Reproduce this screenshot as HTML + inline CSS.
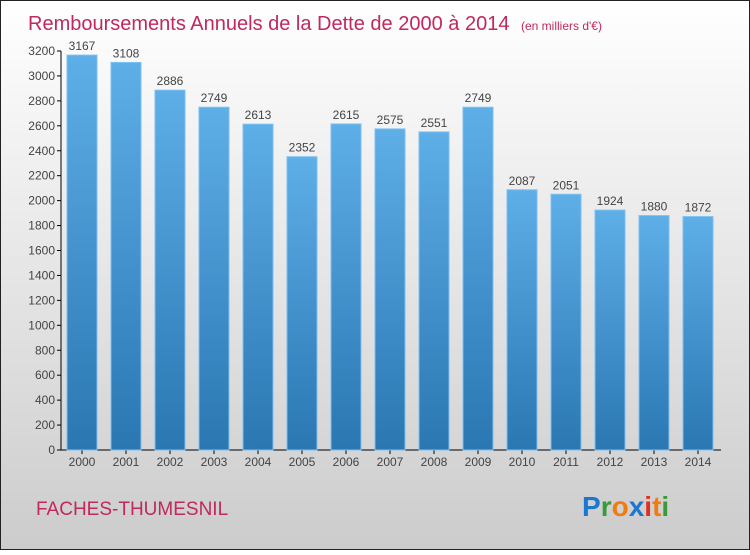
<!DOCTYPE html>
<html><head><meta charset="utf-8"><style>
body{margin:0;width:750px;height:550px;overflow:hidden;font-family:"Liberation Sans",sans-serif}
</style></head><body>
<svg width="750" height="550" xmlns="http://www.w3.org/2000/svg">
<defs>
<linearGradient id="bg" x1="0" y1="0" x2="0" y2="1"><stop offset="0" stop-color="#ffffff"/><stop offset="1" stop-color="#cccccc"/></linearGradient>
<linearGradient id="bar" x1="0" y1="0" x2="0" y2="1"><stop offset="0" stop-color="#5eaee8"/><stop offset="1" stop-color="#2a77b2"/></linearGradient>
</defs>
<rect x="0.5" y="0.5" width="749" height="549" fill="url(#bg)" stroke="#222"/>
<text x="28" y="30" font-size="20" fill="#c0285f">Remboursements Annuels de la Dette de 2000 à 2014 <tspan font-size="12" dx="6">(en milliers d'€)</tspan></text>
<g id="axes"></g><g id="bars"></g>
<text x="36" y="515" font-size="19" fill="#c0285f">FACHES-THUMESNIL</text>
<g font-size="28" font-weight="bold" font-family="'Liberation Sans',sans-serif">
<text x="582" y="516"><tspan fill="#1a78d0">P</tspan><tspan fill="#3a9a3a">r</tspan><tspan fill="#f07c10">o</tspan><tspan fill="#1a78d0">x</tspan><tspan fill="#e03020">i</tspan><tspan fill="#f07c10">t</tspan><tspan fill="#3a9a3a">i</tspan></text>
</g>
</svg>
<script>
const categories=["2000","2001","2002","2003","2004","2005","2006","2007","2008","2009","2010","2011","2012","2013","2014"];
const values=[3167,3108,2886,2749,2613,2352,2615,2575,2551,2749,2087,2051,1924,1880,1872];
const yTicks=[0,200,400,600,800,1000,1200,1400,1600,1800,2000,2200,2400,2600,2800,3000,3200];
const NS="http://www.w3.org/2000/svg";
const y0=450,y1=51,yMax=3200;
function y(v){return y0-(v/yMax)*(y0-y1);}
function x(i){return 82+44*i;}
const ax=document.getElementById('axes'),bg=document.getElementById('bars');
function mk(t,a,p){const e=document.createElementNS(NS,t);for(const k in a)e.setAttribute(k,a[k]);p.appendChild(e);return e;}
let l=mk('line',{x1:61,y1:y1,x2:61,y2:y0,stroke:'#000'},ax);


l=mk('line',{x1:61,y1:y0,x2:721,y2:y0,stroke:'#000'},ax);


yTicks.forEach(v=>{
 const t=mk('line',{x1:57,x2:61,y1:y(v),y2:y(v),stroke:'#000'},ax);
 
 
 const tx=mk('text',{x:55,y:y(v)+4,'text-anchor':'end','font-size':12,fill:'#444'},ax);
 tx.textContent=v;
 
 
});
categories.forEach((c,i)=>{
 const r=mk('rect',{x:x(i)-15,y:y(values[i]),width:30,height:y0-y(values[i]),fill:'url(#bar)',stroke:'#7cc0f0','stroke-width':1},bg);
 
 
 const v=mk('text',{x:x(i),y:y(values[i])-5,'text-anchor':'middle','font-size':12,fill:'#444'},bg);
 v.textContent=values[i];
 
 
 const t=mk('line',{x1:x(i),x2:x(i),y1:y0,y2:y0+4,stroke:'#000'},ax);
 
 
 const tx=mk('text',{x:x(i),y:466,'text-anchor':'middle','font-size':12,fill:'#444'},ax);
 tx.textContent=c;
 
 
});
</script>
</body></html>
